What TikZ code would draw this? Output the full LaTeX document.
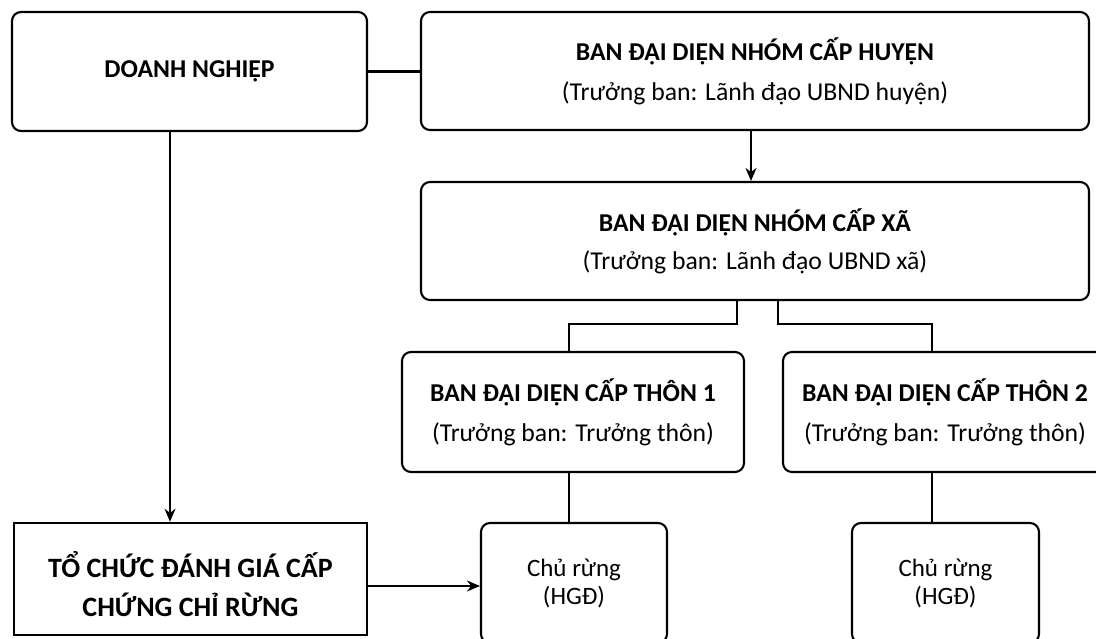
\documentclass[tikz,border=0pt]{standalone}
\usepackage{fontspec}
\setmainfont{Carlito}
\usetikzlibrary{arrows.meta,calc}
\tikzset{
  rbox/.style={draw, rounded corners=9pt, line width=2.1pt, align=center, inner sep=0pt},
  sbox/.style={draw, line width=2.5pt, align=center, inner sep=0pt},
  ttl/.style={font=\fontsize{25.7}{40}\selectfont},
  conn/.style={line width=1.7pt},
  arr/.style={line width=1.7pt, -{Stealth[length=13pt,width=11pt]}},
}
\begin{document}
\begin{tikzpicture}[x=1pt,y=-1pt]
\useasboundingbox (0,0) rectangle (1096,639);
\clip (0,0) rectangle (1096,639);
\node[rbox, ttl, minimum width=355pt, minimum height=119pt] (dn) at (189.5,71.5) {\textbf{DOANH NGHIỆP}};
\node[rbox, ttl, minimum width=668pt, minimum height=118pt] (huyen) at (755,71) {\textbf{BAN ĐẠI DIỆN NHÓM CẤP HUYỆN}\\(Trưởng ban: Lãnh đạo UBND huyện)};
\node[rbox, ttl, minimum width=668pt, minimum height=118pt, font=\fontsize{25.7}{38}\selectfont] (xa) at (755,241) {\textbf{BAN ĐẠI DIỆN NHÓM CẤP XÃ}\\(Trưởng ban: Lãnh đạo UBND xã)};
\node[rbox, ttl, minimum width=342pt, minimum height=120pt] (thon1) at (573,412) {\textbf{BAN ĐẠI DIỆN CẤP THÔN 1}\\(Trưởng ban: Trưởng thôn)};
\node[rbox, ttl, minimum width=324pt, minimum height=120pt] (thon2) at (945,412) {\textbf{BAN ĐẠI DIỆN CẤP THÔN 2}\\(Trưởng ban: Trưởng thôn)};
\node[sbox, minimum width=353pt, minimum height=112pt,
  label={[yshift=-5pt, align=center, font=\fontsize{28}{39}\selectfont]center:{\textbf{TỔ CHỨC ĐÁNH GIÁ CẤP}\\\textbf{CHỨNG CHỈ RỪNG}}}] (tc) at (190.5,579) {};
\node[rbox, font=\fontsize{25}{28}\selectfont, minimum width=186pt, minimum height=120pt] (cr1) at (574,583) {Chủ rừng\\(HGĐ)};
\node[rbox, font=\fontsize{25}{28}\selectfont, minimum width=187pt, minimum height=120pt] (cr2) at (945.5,583) {Chủ rừng\\(HGĐ)};
\coordinate (a1) at (737,324);
\coordinate (a2) at (569,324);
\coordinate (b1) at (778,324);
\coordinate (b2) at (932,324);
\draw[line width=3.5pt] (dn.east) -- (huyen.west |- dn.east);
\draw[arr] ($(huyen.south)+(-4,0)$) -- ($(xa.north)+(-4,0)$);
\draw[arr] (dn.south -| 170,0) -- (tc.north -| 170,0);
\draw[arr] (tc.east |- 0,586) -- (cr1.west |- 0,586);
\draw[conn] (xa.south -| a1) -- (a1) -- (a2) -- (thon1.north -| a2);
\draw[conn] (xa.south -| b1) -- (b1) -- (b2) -- (thon2.north -| b2);
\draw[conn] (thon1.south -| a2) -- (cr1.north -| a2);
\draw[conn] (thon2.south -| b2) -- (cr2.north -| b2);
\end{tikzpicture}
\end{document}
